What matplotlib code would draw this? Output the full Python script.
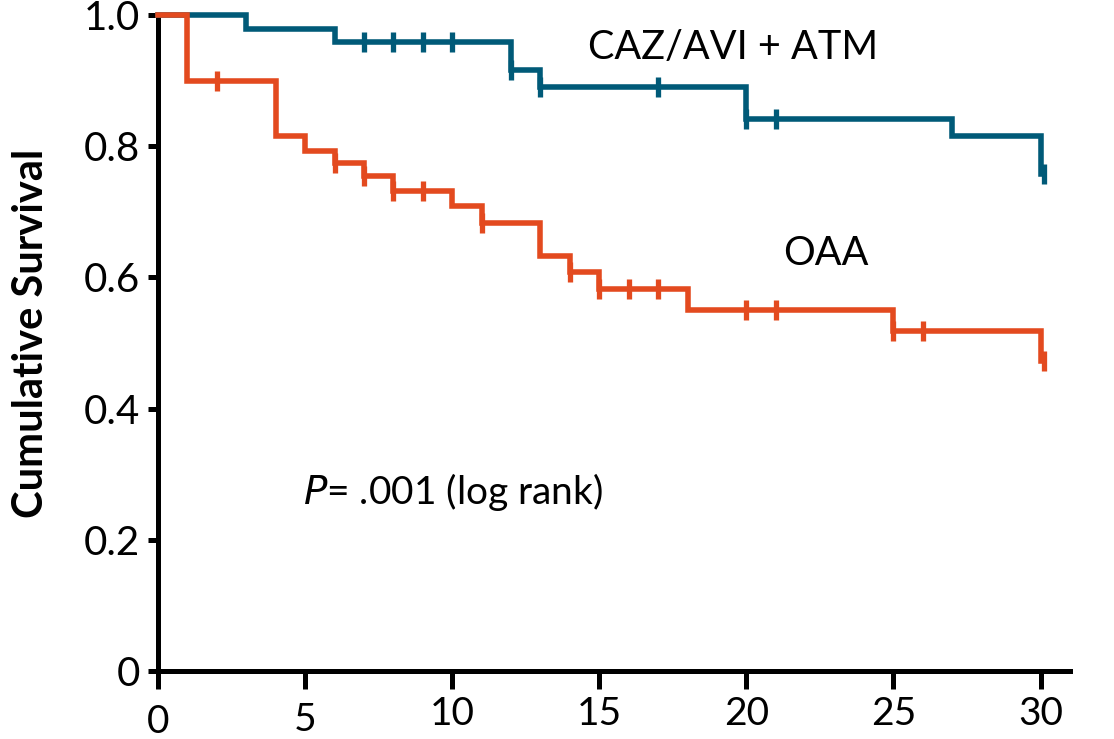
import matplotlib
matplotlib.use("Agg")
import matplotlib.pyplot as plt
import numpy as np

# ---- data ----
caz_times = [0, 3, 6, 12, 13, 20, 27, 30]
caz_surv = [1.0, 0.979, 0.959, 0.916, 0.890, 0.841, 0.815, 0.758]
caz_cens_t = [7, 8, 9, 10, 12, 13, 17, 20, 21, 30.1]
caz_cens_s = [0.959, 0.959, 0.959, 0.959, 0.916, 0.890, 0.890, 0.841, 0.841, 0.758]

oaa_times = [0, 1, 4, 5, 6, 7, 8, 10, 11, 13, 14, 15, 18, 25, 30]
oaa_surv = [1.0, 0.899, 0.815, 0.793, 0.775, 0.754, 0.732, 0.709, 0.683,
            0.632, 0.608, 0.582, 0.550, 0.519, 0.473]
oaa_cens_t = [2, 6, 7, 8, 9, 11, 14, 15, 16, 17, 20, 21, 25, 26, 30.1]
oaa_cens_s = [0.899, 0.775, 0.754, 0.732, 0.732, 0.683, 0.608, 0.582, 0.582,
              0.582, 0.550, 0.550, 0.519, 0.519, 0.473]

x_ticks = [0, 5, 10, 15, 20, 25, 30]
y_ticks = [0, 0.2, 0.4, 0.6, 0.8, 1.0]
y_ticklabels = ["0", "0.2", "0.4", "0.6", "0.8", "1.0"]

blue = "#005a78"
orange = "#e34a1f"

plt.rcParams['font.family'] = ['Lato', 'DejaVu Sans']

fig = plt.figure(figsize=(11.14, 7.39), dpi=100)
ax = fig.add_axes([158/1114, 1 - 671/739, 912/1114, 656/739])

lw = 4.0
ax.step(caz_times, caz_surv, where='post', color=blue, lw=lw, clip_on=False,
        solid_joinstyle='miter', zorder=3)
ax.step(oaa_times, oaa_surv, where='post', color=orange, lw=lw, clip_on=False,
        solid_joinstyle='miter', zorder=3)
ax.plot(caz_cens_t, caz_cens_s, ls='none', marker='|', ms=15, mew=3.8,
        color=blue, clip_on=False, zorder=3)
ax.plot(oaa_cens_t, oaa_cens_s, ls='none', marker='|', ms=15, mew=3.8,
        color=orange, clip_on=False, zorder=3)

ax.set_xlim(0, 31.0)
ax.set_ylim(0, 1.0)

for s in ['top', 'right']:
    ax.spines[s].set_visible(False)
for s in ['left', 'bottom']:
    ax.spines[s].set_linewidth(3.6)
    ax.spines[s].set_capstyle('projecting')

ax.set_xticks(x_ticks)
ax.set_xticklabels([str(v) for v in x_ticks])
ax.set_yticks(y_ticks)
ax.set_yticklabels(y_ticklabels)
ax.tick_params(axis='x', direction='out', length=13, width=3.6, pad=5,
               labelsize=28, colors='black')
ax.tick_params(axis='y', direction='out', length=7, width=3.6, pad=6,
               labelsize=29, colors='black')
# first two x labels sit slightly lower in the reference
xt = ax.xaxis.get_major_ticks()
xt[0].set_pad(11)
xt[1].set_pad(9)

ax.set_ylabel("Cumulative Survival", fontsize=30, fontweight='bold')
ax.yaxis.set_label_coords(-0.118, 0.515)

ax.text(14.6, 0.951, "CAZ/AVI + ATM", fontsize=28.5, va='center', ha='left')
ax.text(21.26, 0.637, "OAA", fontsize=28.5, va='center', ha='left')
ax.text(4.93, 0.273, r"$\it{P}$= .001 (log rank)", fontsize=28, va='center', ha='left')

fig.savefig("out.png", dpi=100)
